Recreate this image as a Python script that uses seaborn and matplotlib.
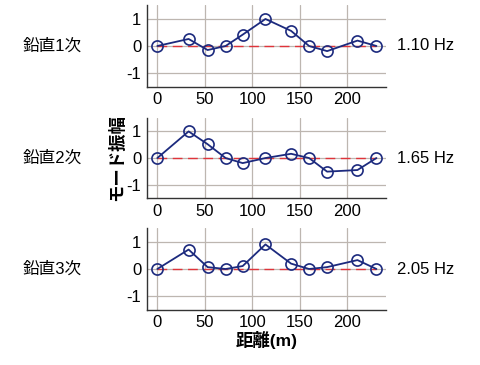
import numpy as np
import pandas as pd
import matplotlib
matplotlib.use("Agg")
import matplotlib.pyplot as plt
import seaborn as sns

# distance along the bridge (m) and mode amplitudes
dist = [0, 33, 53, 72, 90, 114, 141, 160, 179, 211, 231]
mode1 = [0, 0.26, -0.15, 0, 0.42, 1.0, 0.56, 0, -0.19, 0.2, 0]
mode2 = [0, 1.0, 0.52, 0, -0.19, 0, 0.16, 0, -0.51, -0.45, 0]
mode3 = [0, 0.72, 0.07, 0, 0.11, 0.91, 0.2, 0, 0.07, 0.33, 0]
mode_names = ["鉛直1次", "鉛直2次", "鉛直3次"]
freqs = ["1.10 Hz", "1.65 Hz", "2.05 Hz"]
xticks = [0, 50, 100, 150, 200]
yticks = [-1, 0, 1]

sns.set_style("white")
plt.rcParams['font.family'] = ['Liberation Sans', 'Noto Sans CJK JP', 'DejaVu Sans']
plt.rcParams['text.color'] = 'black'
plt.rcParams['xtick.color'] = 'black'
plt.rcParams['ytick.color'] = 'black'
plt.rcParams['axes.labelcolor'] = 'black'

navy = "#1c2a7e"
red = "#e0343a"
gridc = "#bdb6b0"

fig = plt.figure(figsize=(4.8, 3.65), dpi=100)
boxes = [(0.306, 0.763, 0.498, 0.222),
         (0.306, 0.4575, 0.498, 0.219),
         (0.306, 0.152, 0.498, 0.222)]

for i, amp in enumerate([mode1, mode2, mode3]):
    ax = fig.add_axes(boxes[i])
    df = pd.DataFrame({"x": dist, "y": amp})
    ax.plot([dist[0], dist[-1]], [0, 0], color=red, lw=1.0, ls=(0, (7, 4)), zorder=2)
    sns.lineplot(data=df, x="x", y="y", ax=ax, sort=False, color=navy, lw=1.3,
                 marker="o", markersize=8, markerfacecolor="none",
                 markeredgecolor=navy, markeredgewidth=1.2, zorder=3)
    ax.set_xlim(-11, 241)
    ax.set_ylim(-1.5, 1.5)
    ax.set_xticks(xticks)
    ax.set_yticks(yticks)
    ax.set_yticklabels(["-1", "0", "1"])
    ax.grid(True, color=gridc, lw=0.9)
    ax.set_axisbelow(True)
    ax.tick_params(length=0, labelsize=12, pad=4)
    for s in ["top", "right"]:
        ax.spines[s].set_visible(False)
    for s in ["left", "bottom"]:
        ax.spines[s].set_color("#333333")
        ax.spines[s].set_linewidth(1.0)
    ax.set_xlabel("")
    ax.set_ylabel("")
    ax.text(-0.272, 0.5, mode_names[i], transform=ax.transAxes, ha="right",
            va="center", fontsize=12)
    ax.text(1.045, 0.5, freqs[i], transform=ax.transAxes, ha="left",
            va="center", fontsize=12)
    if i == 1:
        ax.set_ylabel("モード振幅", fontsize=12.5, fontweight="bold", labelpad=1)
    if i == 2:
        ax.set_xlabel("距離(m)", fontsize=12.5, fontweight="bold", labelpad=1)

fig.savefig("out.png", dpi=100)
